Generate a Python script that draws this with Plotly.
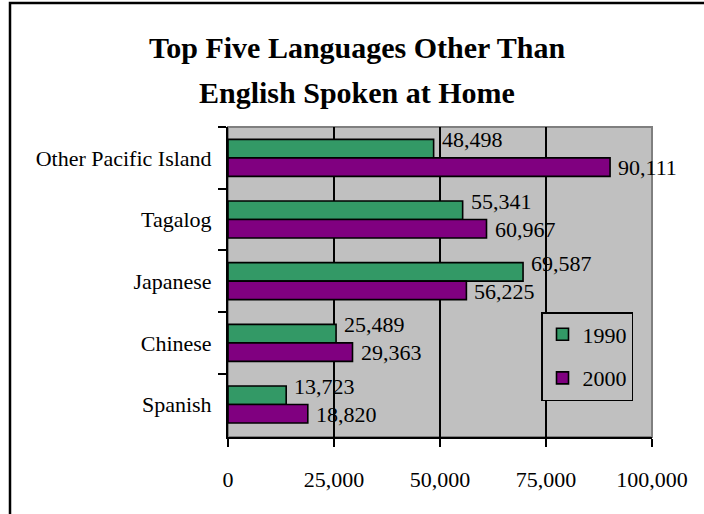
import plotly.graph_objects as go

# Languages, listed top to bottom
languages = ["Other Pacific Island", "Tagalog", "Japanese", "Chinese", "Spanish"]
speakers_1990 = [48498, 55341, 69587, 25489, 13723]
speakers_2000 = [90111, 60967, 56225, 29363, 18820]
x_ticks = [0, 25000, 50000, 75000, 100000]
x_tick_labels = ["0", "25,000", "50,000", "75,000", "100,000"]
title_lines = ["Top Five Languages Other Than", "English Spoken at Home"]

SERIF = "Liberation Serif, Times New Roman, serif"
GREEN = "#339966"
PURPLE = "#800080"
PLOT_BG = "#C0C0C0"

W, H = 704, 514
L, R, T, B = 228, 52, 127, 77
pw, ph = W - L - R, H - T - B


def fmt(v):
    return f"{v:,}"


fig = go.Figure()
series = [
    ("1990", speakers_1990, GREEN, "a", 18),
    ("2000", speakers_2000, PURPLE, "b", -10),
]
annotations = []
for name, values, color, group, lift in series:
    fig.add_trace(go.Bar(
        name=name, y=languages, x=values, orientation="h",
        marker=dict(color=color, line=dict(color="black", width=1.6)),
        cliponaxis=False, legendgroup=group,
    ))
    # value labels just past the end of each bar
    for lang, v in zip(languages, values):
        annotations.append(dict(
            x=v, y=lang, xref="x", yref="y", text=fmt(v),
            xanchor="left", yanchor="middle", xshift=6, yshift=lift,
            showarrow=False, font=dict(family=SERIF, size=22, color="black"),
        ))

# outer frame (left and top edges visible) and plot-area border
shapes = [
    dict(type="rect", xref="paper", yref="paper",
         x0=(10 - L) / pw, x1=(W + 10 - L) / pw,
         y0=-(B + 10) / ph, y1=(H - B - 3) / ph,
         line=dict(color="black", width=2.5), fillcolor="rgba(0,0,0,0)", layer="above"),
    dict(type="rect", xref="paper", yref="paper", x0=0, x1=1, y0=0, y1=1,
         line=dict(color="#7f7f7f", width=2), fillcolor="rgba(0,0,0,0)", layer="below"),
]

for i, line in enumerate(title_lines):
    annotations.append(dict(
        text=f"<b>{line}</b>", xref="paper", yref="paper",
        x=(357 - L) / pw, y=(H - B - (47 + 45 * i)) / ph,
        xanchor="center", yanchor="middle", showarrow=False,
        font=dict(family=SERIF, size=30, color="black"),
    ))

fig.update_layout(
    width=W, height=H,
    margin=dict(l=L, r=R, t=T, b=B, pad=0),
    paper_bgcolor="white", plot_bgcolor=PLOT_BG,
    barmode="group", bargap=0.4, bargroupgap=0,
    font=dict(family=SERIF, size=22, color="black"),
    shapes=shapes, annotations=annotations,
    showlegend=True,
    legend=dict(
        x=(541 - L) / pw, y=(H - B - 312) / ph, xanchor="left", yanchor="top",
        bgcolor=PLOT_BG, bordercolor="black", borderwidth=1.5,
        font=dict(family=SERIF, size=22, color="black"),
        traceorder="grouped", tracegroupgap=12,
    ),
)
fig.update_xaxes(
    range=[0, 100000], tickvals=x_ticks, ticktext=x_tick_labels,
    showgrid=True, gridcolor="black", gridwidth=2,
    showline=True, linecolor="black", linewidth=2,
    ticks="outside", ticklen=8, tickwidth=2, tickcolor="black",
    ticklabelstandoff=14, zeroline=False,
    tickfont=dict(family=SERIF, size=22, color="black"),
)
fig.update_yaxes(
    autorange="reversed", type="category", tickson="boundaries",
    showgrid=False, showline=True, linecolor="black", linewidth=2,
    ticks="outside", ticklen=8, tickwidth=2, tickcolor="black",
    ticklabelstandoff=10,
    tickfont=dict(family=SERIF, size=22, color="black"),
)

fig.write_html("out.html")
